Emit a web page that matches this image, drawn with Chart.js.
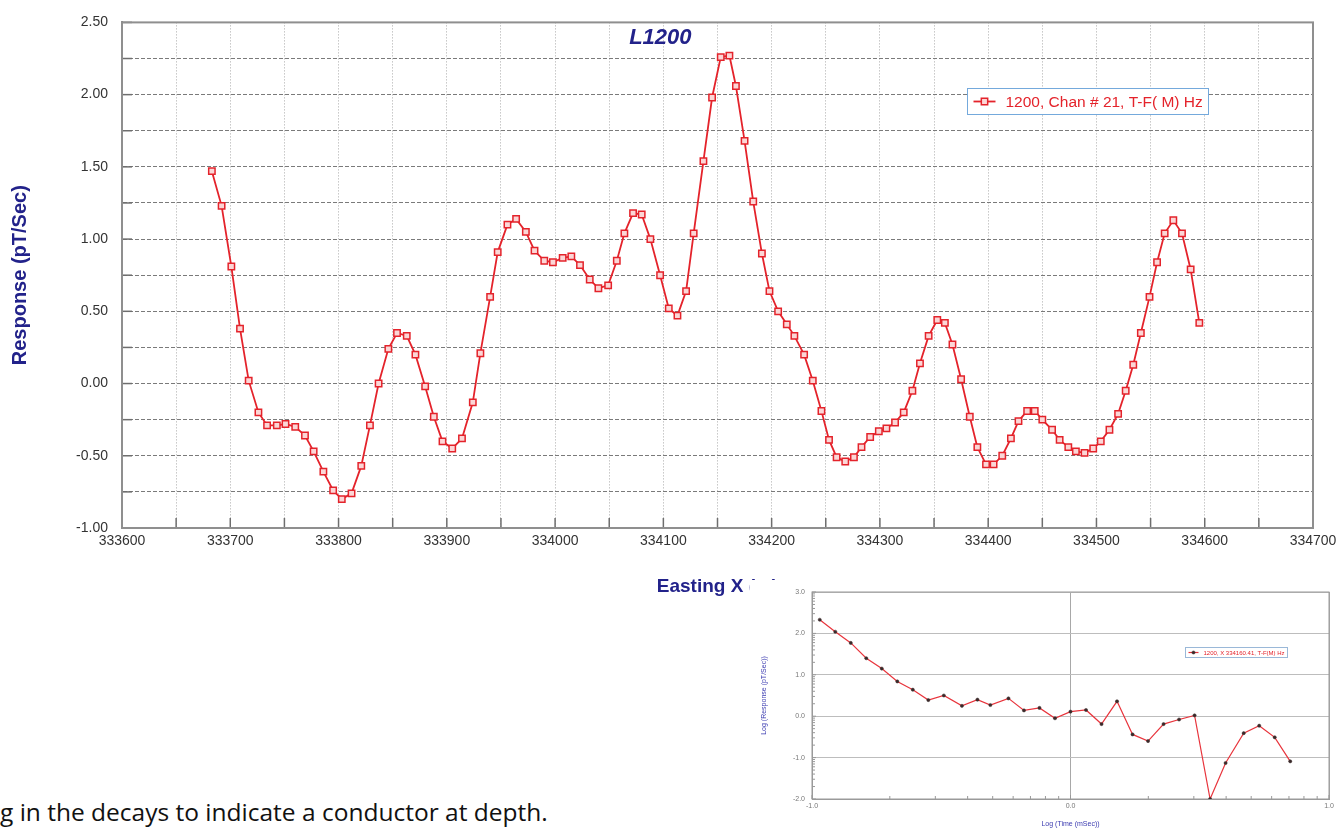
<!DOCTYPE html>
<html>
<head>
<meta charset="utf-8">
<script src="https://cdn.jsdelivr.net/npm/chart.js@4.4.1/dist/chart.umd.min.js"></script>
<style>
  html, body { margin: 0; padding: 0; background: #fff; }
  body { width: 1342px; height: 832px; position: relative; overflow: hidden; }
  #profile { position: absolute; left: 0; top: 0; }
  #decay { position: absolute; left: 750px; top: 580px; background: #fff; }
  .caption {
    position: absolute; left: 0; top: 800px;
    font-family: "Open Sans", sans-serif; font-size: 24.5px; line-height: 1;
    color: #111; white-space: nowrap;
  }
</style>
</head>
<body>
<canvas id="profile" width="1342" height="600"></canvas>
<div class="caption">g in the decays to indicate a conductor at depth.</div>
<canvas id="decay" width="592" height="252"></canvas>
<script>
// line L1200, channel 21 profile (easting in m, response in pT/s)
const eastings = [
  333683, 333692, 333701, 333709, 333717, 333726, 333734, 333743, 333751, 333760,
  333769, 333777, 333786, 333795, 333803, 333812, 333821, 333829, 333837, 333846,
  333854, 333863, 333871, 333880, 333888, 333896, 333905, 333914, 333924, 333931,
  333940, 333947, 333956, 333964, 333973, 333981, 333990, 333998, 334007, 334015,
  334023, 334032, 334040, 334049, 334057, 334064, 334072, 334080, 334088, 334097,
  334105, 334113, 334121, 334128, 334137, 334145, 334153, 334161, 334167, 334175,
  334183, 334191, 334198, 334206, 334214, 334221, 334230, 334238, 334246, 334253,
  334260, 334268, 334276, 334283, 334291, 334299, 334306, 334314, 334322, 334330,
  334337, 334345, 334353, 334360, 334367, 334375, 334383, 334390, 334398, 334405,
  334413, 334421, 334428, 334436, 334443, 334450, 334459, 334466, 334474, 334481,
  334489, 334497, 334504, 334512, 334520, 334527, 334534, 334541, 334549, 334556,
  334563, 334571, 334579, 334587, 334595
];
const responses = [
  1.47, 1.23, 0.81, 0.38, 0.02, -0.20, -0.29, -0.29, -0.28, -0.30,
  -0.36, -0.47, -0.61, -0.74, -0.80, -0.76, -0.57, -0.29, 0.00, 0.24,
  0.35, 0.33, 0.20, -0.02, -0.23, -0.40, -0.45, -0.38, -0.13, 0.21,
  0.60, 0.91, 1.10, 1.14, 1.05, 0.92, 0.85, 0.84, 0.87, 0.88,
  0.82, 0.72, 0.66, 0.68, 0.85, 1.04, 1.18, 1.17, 1.00, 0.75,
  0.52, 0.47, 0.64, 1.04, 1.54, 1.98, 2.26, 2.27, 2.06, 1.68,
  1.26, 0.90, 0.64, 0.50, 0.41, 0.33, 0.20, 0.02, -0.19, -0.39,
  -0.51, -0.54, -0.51, -0.44, -0.37, -0.33, -0.31, -0.27, -0.20, -0.05,
  0.14, 0.33, 0.44, 0.42, 0.27, 0.03, -0.23, -0.44, -0.56, -0.56,
  -0.50, -0.38, -0.26, -0.19, -0.19, -0.25, -0.32, -0.39, -0.44, -0.47,
  -0.48, -0.45, -0.40, -0.32, -0.21, -0.05, 0.13, 0.35, 0.60, 0.84,
  1.04, 1.13, 1.04, 0.79, 0.42
];

// decay at one station, both axes log10
const decayLogTimes = [
  -0.97, -0.91, -0.85, -0.79, -0.73, -0.67, -0.61, -0.55, -0.49, -0.42,
  -0.36, -0.31, -0.24, -0.18, -0.12, -0.06, 0.00, 0.06, 0.12, 0.18,
  0.24, 0.30, 0.36, 0.42, 0.48, 0.54, 0.60, 0.67, 0.73, 0.79, 0.85
];
const decayLogResponses = [
  2.33, 2.04, 1.77, 1.40, 1.15, 0.84, 0.64, 0.39, 0.50, 0.25,
  0.40, 0.27, 0.43, 0.14, 0.20, -0.05, 0.11, 0.15, -0.19, 0.36,
  -0.44, -0.60, -0.19, -0.08, 0.02, -2.00, -1.13, -0.41, -0.23, -0.51, -1.09
];

const lineName = "L1200";
const profileLabel = "1200, Chan # 21, T-F( M) Hz";
const decayLabel = "1200, X 334160.41, T-F(M) Hz";

const FONT = "'Liberation Sans', Arial, sans-serif";
const RED = "#e4232b";
const NAVY = "#22228a";

const strokeLine = (ctx, x1, y1, x2, y2) => {
  ctx.beginPath();
  ctx.moveTo(x1, y1);
  ctx.lineTo(x2, y2);
  ctx.stroke();
};

// plot frame + short inward tick marks
const frameAndTicks = {
  id: "frameAndTicks",
  beforeDatasetsDraw(chart, args, opts) {
    const { ctx, chartArea: a, scales } = chart;
    ctx.save();
    ctx.strokeStyle = opts.tickColor;
    ctx.lineWidth = opts.tickWidth;
    scales.y.ticks.forEach((t) => {
      const y = scales.y.getPixelForValue(t.value);
      strokeLine(ctx, a.left, y, a.left + opts.tickLen, y);
    });
    scales.x.ticks.forEach((t) => {
      const x = scales.x.getPixelForValue(t.value);
      strokeLine(ctx, x, a.bottom, x, a.bottom - opts.tickLen);
    });
    if (opts.logMinor) {
      // log-style minor ticks inside each decade
      [scales.x, scales.y].forEach((s) => {
        for (let d = Math.floor(s.min); d < s.max; d++) {
          for (let k = 2; k <= 9; k++) {
            const p = s.getPixelForValue(d + Math.log10(k));
            if (s.axis === "x") strokeLine(ctx, p, a.bottom, p, a.bottom - opts.minorLen);
            else strokeLine(ctx, a.left, p, a.left + opts.minorLen, p);
          }
        }
      });
    }
    ctx.strokeStyle = opts.frameColor;
    ctx.lineWidth = opts.frameWidth;
    ctx.strokeRect(a.left, a.top, a.right - a.left, a.bottom - a.top);
    ctx.restore();
  },
};

// title and boxed legend placed inside the plot area
const overlay = {
  id: "overlay",
  afterDatasetsDraw(chart, args, opts) {
    const { ctx, chartArea: a } = chart;
    const w = a.right - a.left;
    const h = a.bottom - a.top;
    if (opts.title) {
      const t = opts.title;
      ctx.save();
      ctx.font = t.font;
      ctx.fillStyle = t.color;
      ctx.textAlign = "center";
      ctx.textBaseline = "middle";
      ctx.fillText(t.text, a.left + w * t.fx, a.top + h * t.fy);
      ctx.restore();
    }
    const L = opts.legend;
    const ds = chart.data.datasets[0];
    ctx.save();
    ctx.font = L.font;
    const tw = ctx.measureText(ds.label).width;
    const x0 = Math.round(a.left + w * L.fx) + 0.5;
    const y0 = Math.round(a.top + h * L.fy) + 0.5;
    const bw = Math.round(L.pad + L.sample + L.gap + tw + L.pad);
    ctx.fillStyle = "#fff";
    ctx.fillRect(x0, y0, bw, L.height);
    ctx.strokeStyle = L.border;
    ctx.lineWidth = 1;
    ctx.strokeRect(x0, y0, bw, L.height);
    const cy = y0 + L.height / 2;
    ctx.strokeStyle = ds.borderColor;
    ctx.lineWidth = ds.borderWidth;
    strokeLine(ctx, x0 + L.pad, cy, x0 + L.pad + L.sample, cy);
    const mx = x0 + L.pad + L.sample / 2;
    ctx.fillStyle = ds.pointBackgroundColor;
    ctx.strokeStyle = ds.pointBorderColor;
    ctx.lineWidth = ds.pointBorderWidth || 1;
    ctx.beginPath();
    if (ds.pointStyle === "rect") {
      const s = Math.SQRT1_2 * ds.pointRadius;
      ctx.rect(mx - s, cy - s, 2 * s, 2 * s);
    } else {
      ctx.arc(mx, cy, ds.pointRadius, 0, Math.PI * 2);
    }
    ctx.fill();
    ctx.stroke();
    ctx.fillStyle = L.textColor;
    ctx.textAlign = "left";
    ctx.textBaseline = "middle";
    ctx.fillText(ds.label, x0 + L.pad + L.sample + L.gap, cy + 1);
    ctx.restore();
  },
};

new Chart(document.getElementById("profile"), {
  type: "line",
  data: {
    datasets: [
      {
        label: profileLabel,
        data: eastings.map((x, i) => ({ x, y: responses[i] })),
        borderColor: RED,
        borderWidth: 1.8,
        pointStyle: "rect",
        pointRadius: 4.5,
        pointBorderWidth: 1.5,
        pointBackgroundColor: "#fbd6d6",
        pointBorderColor: RED,
        tension: 0,
      },
    ],
  },
  options: {
    responsive: false,
    animation: false,
    layout: { padding: { top: 15, right: 29, left: 0, bottom: 0 } },
    plugins: {
      legend: { display: false },
      tooltip: { enabled: false },
      frameAndTicks: { tickColor: "#6e6e6e", tickWidth: 1.5, tickLen: 10, frameColor: "#8f8f8f", frameWidth: 2 },
      overlay: {
        title: { text: lineName, font: `italic bold 22px ${FONT}`, color: NAVY, fx: 0.452, fy: 0.03 },
        legend: {
          fx: 0.7095, fy: 0.1306, height: 26, pad: 6, sample: 22, gap: 10,
          font: `15.5px ${FONT}`, textColor: RED, border: "#74a9dc",
        },
      },
    },
    scales: {
      x: {
        type: "linear",
        min: 333600,
        max: 334700,
        ticks: {
          stepSize: 50,
          autoSkip: false,
          maxRotation: 0,
          padding: 5,
          color: "#333",
          font: { family: FONT, size: 14 },
          callback: (v) => (v % 100 === 0 ? String(v) : ""),
        },
        grid: { color: "#a9a9a9", lineWidth: 1, drawTicks: false },
        border: { display: true, color: "#8f8f8f", width: 2, dash: [1, 2] },
        title: {
          display: true,
          text: "Easting X (m)",
          color: NAVY,
          font: { family: FONT, size: 19, weight: "bold" },
          padding: { top: 0, bottom: 2 },
        },
        afterFit(scale) { scale.height = 72; },
      },
      y: {
        min: -1,
        max: 2.5,
        ticks: {
          stepSize: 0.25,
          autoSkip: false,
          padding: 14,
          color: "#333",
          font: { family: FONT, size: 14 },
          callback: (v) => (Math.abs(v * 2 - Math.round(v * 2)) < 1e-6 ? v.toFixed(2) : ""),
        },
        grid: { color: "#7a7a7a", lineWidth: 1, drawTicks: false },
        border: { display: true, color: "#8f8f8f", width: 2, dash: [4, 2] },
        title: {
          display: true,
          text: "Response (pT/Sec)",
          color: NAVY,
          font: { family: FONT, size: 20, weight: "bold" },
          padding: { top: 8, bottom: 0 },
        },
        afterFit(scale) { scale.width = 122; },
      },
    },
  },
  plugins: [frameAndTicks, overlay],
});

new Chart(document.getElementById("decay"), {
  type: "line",
  data: {
    datasets: [
      {
        label: decayLabel,
        data: decayLogTimes.map((x, i) => ({ x, y: decayLogResponses[i] })),
        borderColor: "#e8343c",
        borderWidth: 1.2,
        pointStyle: "circle",
        pointRadius: 1.6,
        pointBorderWidth: 0.5,
        pointBackgroundColor: "#3a2a2a",
        pointBorderColor: "#3a2a2a",
        tension: 0,
      },
    ],
  },
  options: {
    responsive: false,
    animation: false,
    layout: { padding: { top: 12, right: 13, left: 0, bottom: 0 } },
    plugins: {
      legend: { display: false },
      tooltip: { enabled: false },
      frameAndTicks: {
        tickColor: "#999", tickWidth: 1, tickLen: 4, minorLen: 3, logMinor: true,
        frameColor: "#9a9a9a", frameWidth: 1,
      },
      overlay: {
        legend: {
          fx: 0.721, fy: 0.266, height: 10, pad: 3, sample: 10, gap: 5,
          font: `6px ${FONT}`, textColor: RED, border: "#9ab8d8",
        },
      },
    },
    scales: {
      x: {
        type: "linear",
        min: -1,
        max: 1,
        ticks: {
          stepSize: 1,
          maxRotation: 0,
          padding: 3,
          color: "#777",
          font: { family: FONT, size: 7 },
          callback: (v) => v.toFixed(1),
        },
        grid: { color: "#a8a8a8", drawTicks: false },
        border: { display: true, color: "#9a9a9a", width: 1 },
        title: {
          display: true,
          text: "Log (Time (mSec))",
          color: "#3b3bb0",
          font: { family: FONT, size: 7 },
          padding: { top: 0, bottom: 4 },
        },
        afterFit(scale) { scale.height = 33; },
      },
      y: {
        min: -2,
        max: 3,
        ticks: {
          stepSize: 1,
          padding: 7,
          color: "#777",
          font: { family: FONT, size: 7 },
          callback: (v) => v.toFixed(1),
        },
        grid: { color: "#bdbdbd", drawTicks: false },
        border: { display: true, color: "#9a9a9a", width: 1 },
        title: {
          display: true,
          text: "Log (Response (pT/Sec))",
          color: "#3b3bb0",
          font: { family: FONT, size: 7 },
          padding: { top: 10, bottom: 0 },
        },
        afterFit(scale) { scale.width = 62; },
      },
    },
  },
  plugins: [frameAndTicks, overlay],
});
</script>
</body>
</html>
